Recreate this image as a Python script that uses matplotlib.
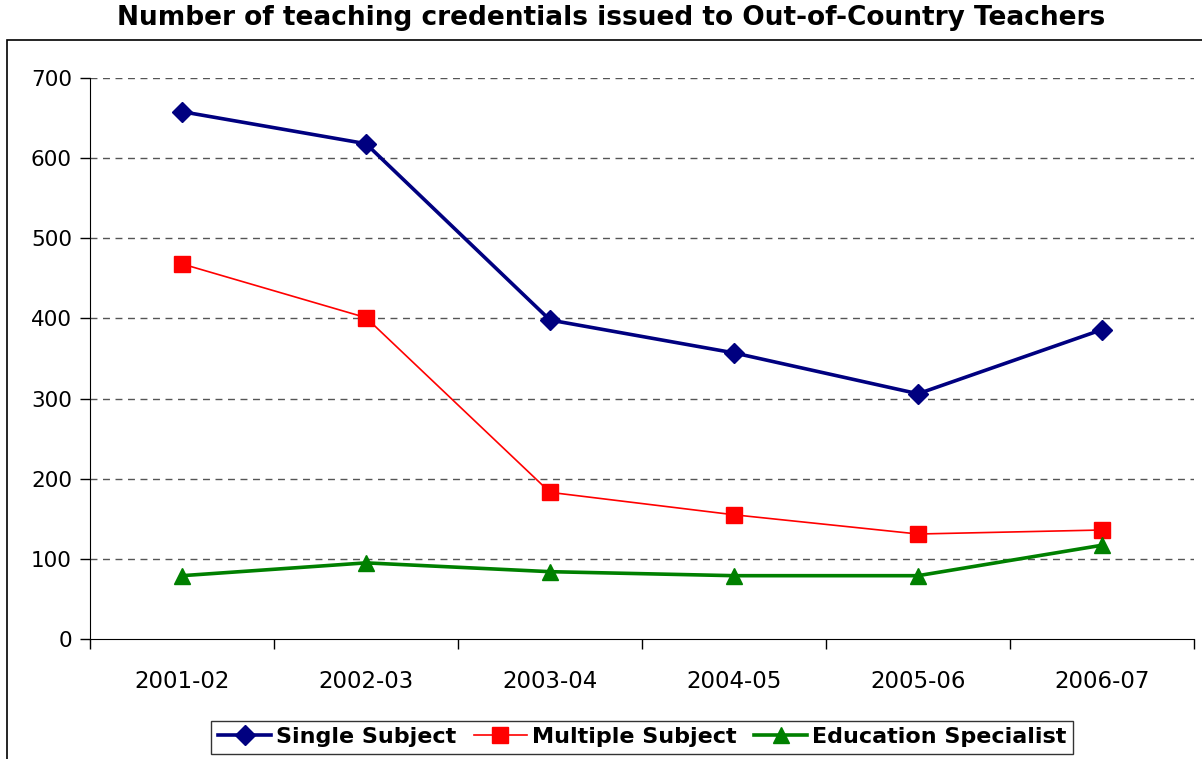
import matplotlib.pyplot as plt
from matplotlib.patches import Rectangle

# data
years = ['2001-02', '2002-03', '2003-04', '2004-05', '2005-06', '2006-07']
single_subject = [658, 618, 398, 357, 306, 386]
multiple_subject = [468, 401, 183, 155, 131, 136]
education_specialist = [79, 95, 84, 79, 79, 117]

W, H = 1202, 759
fig = plt.figure(figsize=(W / 100, H / 100), dpi=100)

# outer chart frame (left and top edges visible)
fig.add_artist(Rectangle((7 / W, -0.05), 1.2, 1 - 40 / H + 0.05, transform=fig.transFigure,
                         fill=False, edgecolor='black', linewidth=1.2))

ax = fig.add_axes([90 / W, 1 - 639 / H, (1194 - 90) / W, (639 - 78) / H])

x = list(range(len(years)))
ax.plot(x, single_subject, color='#000080', linewidth=2.6, marker='D', markersize=10,
        label='Single Subject')
ax.plot(x, multiple_subject, color='#FF0000', linewidth=1.2, marker='s', markersize=12,
        label='Multiple Subject')
ax.plot(x, education_specialist, color='#008000', linewidth=2.6, marker='^', markersize=12,
        label='Education Specialist')

ax.set_xlim(-0.5, len(years) - 0.5)
ax.set_ylim(0, 700)
ax.set_yticks(range(0, 701, 100))
ax.set_xticks([i - 0.5 for i in range(len(years) + 1)])
ax.set_xticklabels([])
ax.set_xticks(x, minor=True)
ax.set_xticklabels(years, minor=True)
ax.tick_params(axis='x', which='minor', length=0, pad=22, labelsize=16.5)
ax.tick_params(axis='x', which='major', direction='out', length=7, width=1)
ax.tick_params(axis='y', direction='out', length=7, width=1, labelsize=15.5, pad=6)

for v in range(100, 701, 100):
    ax.axhline(v, color='#555555', linestyle=(0, (5, 4)), linewidth=1, zorder=0)

for s in ['top', 'right']:
    ax.spines[s].set_visible(False)

fig.text(0.5 + 10 / W, 1 - 18 / H, 'Number of teaching credentials issued to Out-of-Country Teachers',
         ha='center', va='center', fontsize=19, fontweight='bold')

leg = ax.legend(loc='center', bbox_to_anchor=(0.5, -0.175),
                ncol=3, frameon=True, fancybox=False, edgecolor='black',
                prop={'weight': 'bold', 'size': 16}, handlelength=2.4, handletextpad=0.2,
                columnspacing=0.8, borderpad=0.3)
leg.get_frame().set_linewidth(1)

fig.savefig('out.png', dpi=100)
